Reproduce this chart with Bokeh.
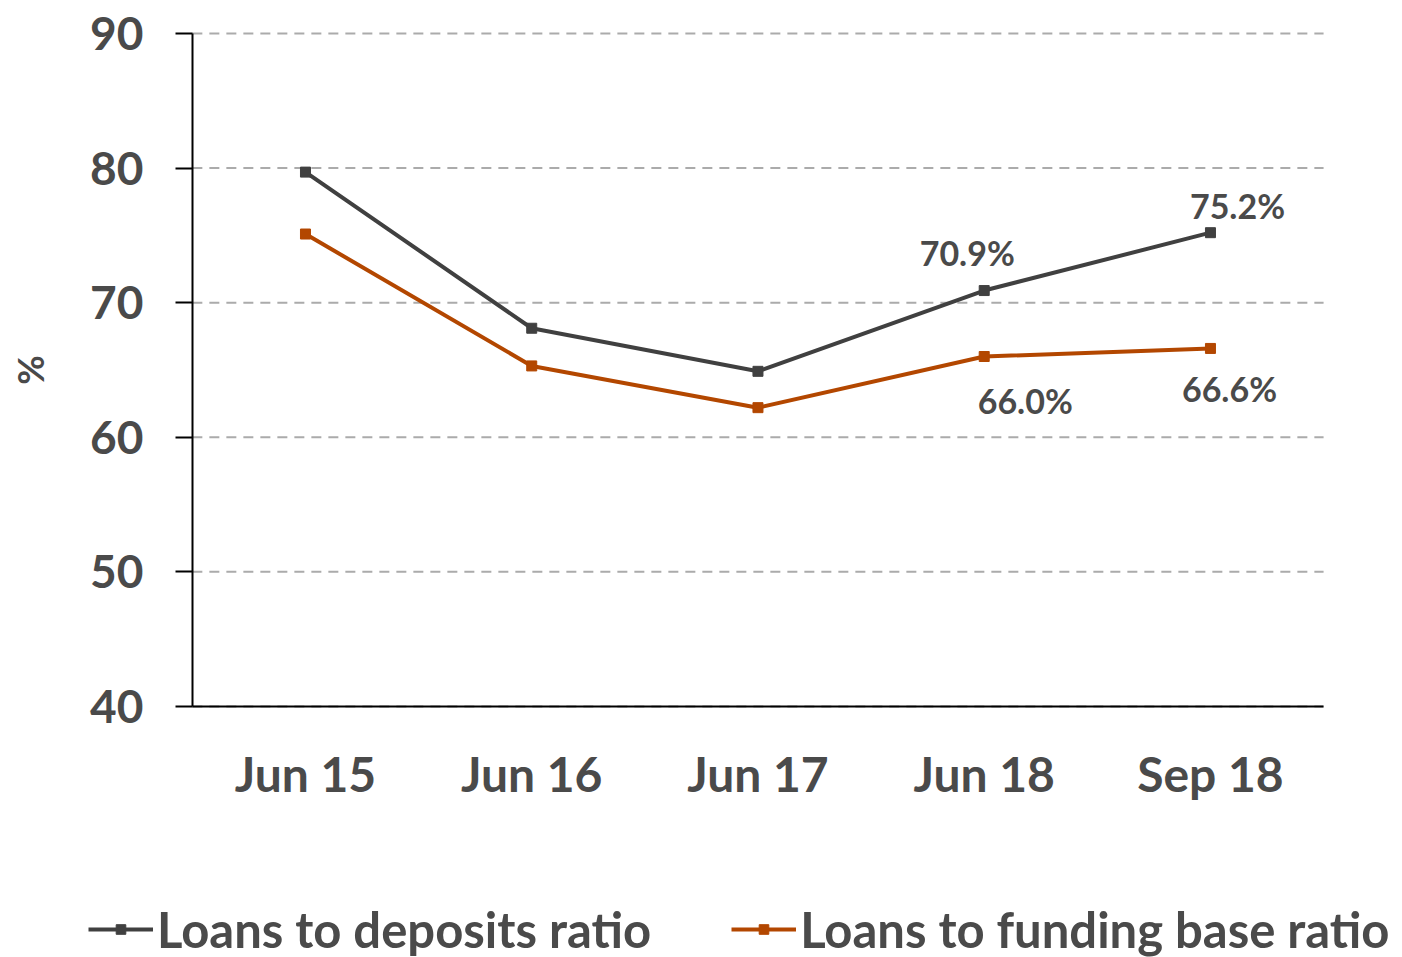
from bokeh.plotting import figure
from bokeh.models import (Legend, LegendItem, ColumnDataSource, FixedTicker, Range1d,
                          LinearAxis)
from bokeh.core.properties import value
from bokeh.embed import file_html
from bokeh.resources import INLINE

categories = ["Jun 15", "Jun 16", "Jun 17", "Jun 18", "Sep 18"]
loans_to_deposits = [79.7, 68.1, 64.9, 70.9, 75.2]
loans_to_funding = [75.1, 65.3, 62.2, 66.0, 66.6]
y_ticks = [40, 50, 60, 70, 80, 90]
series_names = ["Loans to deposits ratio", "Loans to funding base ratio"]

FONT = "Lato"
GRAY = "#404040"
ORANGE = "#B34700"
TXT = "#4a4a4a"

xs = list(range(len(categories)))
x_lo, x_hi = xs[0] - 0.5, xs[-1] + 0.5
y_lo, y_hi = y_ticks[0], y_ticks[-1]

p = figure(width=1400, height=957, output_backend="svg", toolbar_location=None,
           x_range=Range1d(-1.348, 4.840), y_range=Range1d(21.35, 92.45),
           x_axis_location=None, y_axis_location=None,
           min_border_left=0, min_border_right=0, min_border_top=0, min_border_bottom=0)
p.outline_line_color = None
p.background_fill_color = "white"
p.border_fill_color = "white"
p.grid.visible = False

# dashed horizontal grid lines, limited to the plotting area
p.segment(x0=[x_lo] * len(y_ticks), x1=[x_hi] * len(y_ticks), y0=y_ticks, y1=y_ticks,
          line_color="#ababab", line_width=2, line_dash="10 7")

yaxis = LinearAxis(fixed_location=x_lo, bounds=(y_lo, y_hi), ticker=FixedTicker(ticks=y_ticks))
yaxis.axis_line_color = "black"
yaxis.axis_line_width = 2
yaxis.major_tick_line_color = "black"
yaxis.major_tick_line_width = 2
yaxis.major_tick_out = 17
yaxis.major_tick_in = 0
yaxis.minor_tick_line_color = None
yaxis.major_label_text_font = FONT
yaxis.major_label_text_font_style = "bold"
yaxis.major_label_text_font_size = "46px"
yaxis.major_label_text_color = TXT
yaxis.major_label_standoff = 32
yaxis.axis_label = "%"
yaxis.axis_label_text_font = FONT
yaxis.axis_label_text_font_style = "bold"
yaxis.axis_label_text_font_size = "36px"
yaxis.axis_label_text_color = TXT
yaxis.axis_label_standoff = 35
p.add_layout(yaxis, "left")

xaxis = LinearAxis(fixed_location=y_lo, bounds=(x_lo, x_hi), ticker=FixedTicker(ticks=xs),
                   major_label_overrides={i: c for i, c in zip(xs, categories)})
xaxis.axis_line_color = "black"
xaxis.axis_line_width = 2
xaxis.major_tick_line_color = None
xaxis.minor_tick_line_color = None
xaxis.major_label_text_font = FONT
xaxis.major_label_text_font_style = "bold"
xaxis.major_label_text_font_size = "48px"
xaxis.major_label_text_color = TXT
xaxis.major_label_standoff = 33
p.add_layout(xaxis, "below")

src = ColumnDataSource(dict(x=xs, dep=loans_to_deposits, fund=loans_to_funding))
l1 = p.line("x", "dep", source=src, line_color=GRAY, line_width=4)
m1 = p.scatter("x", "dep", source=src, marker="square", size=10, fill_color=GRAY, line_color=GRAY)
l2 = p.line("x", "fund", source=src, line_color=ORANGE, line_width=4)
m2 = p.scatter("x", "fund", source=src, marker="square", size=10, fill_color=ORANGE, line_color=ORANGE)

# data labels for the last two points
lab_x = xs[3:] + xs[3:]
lab_y = loans_to_deposits[3:] + loans_to_funding[3:]
lab_t = ["%.1f%%" % v for v in lab_y]
lab_dx = [-17, 27, 41, 19]
lab_dy = [-38, -27, 44, 40]
lsrc = ColumnDataSource(dict(x=lab_x, y=lab_y, t=lab_t, dx=lab_dx, dy=lab_dy))
p.text("x", "y", text="t", source=lsrc, x_offset="dx", y_offset="dy",
       text_font=value(FONT), text_font_style="bold", text_font_size="34px",
       text_color=TXT, text_align="center", text_baseline="middle")

legend = Legend(items=[LegendItem(label=series_names[0], renderers=[l1, m1]),
                       LegendItem(label=series_names[1], renderers=[l2, m2])],
                orientation="horizontal", location=(88, -1))
legend.label_text_font = FONT
legend.label_text_font_style = "bold"
legend.label_text_font_size = "49px"
legend.label_text_color = TXT
legend.glyph_width = 65
legend.glyph_height = 24
legend.label_standoff = 4
legend.spacing = 80
legend.padding = 0
legend.margin = 0
legend.border_line_color = None
legend.background_fill_alpha = 0
p.add_layout(legend, "center")

open("out.html", "w").write(file_html(p, INLINE))
